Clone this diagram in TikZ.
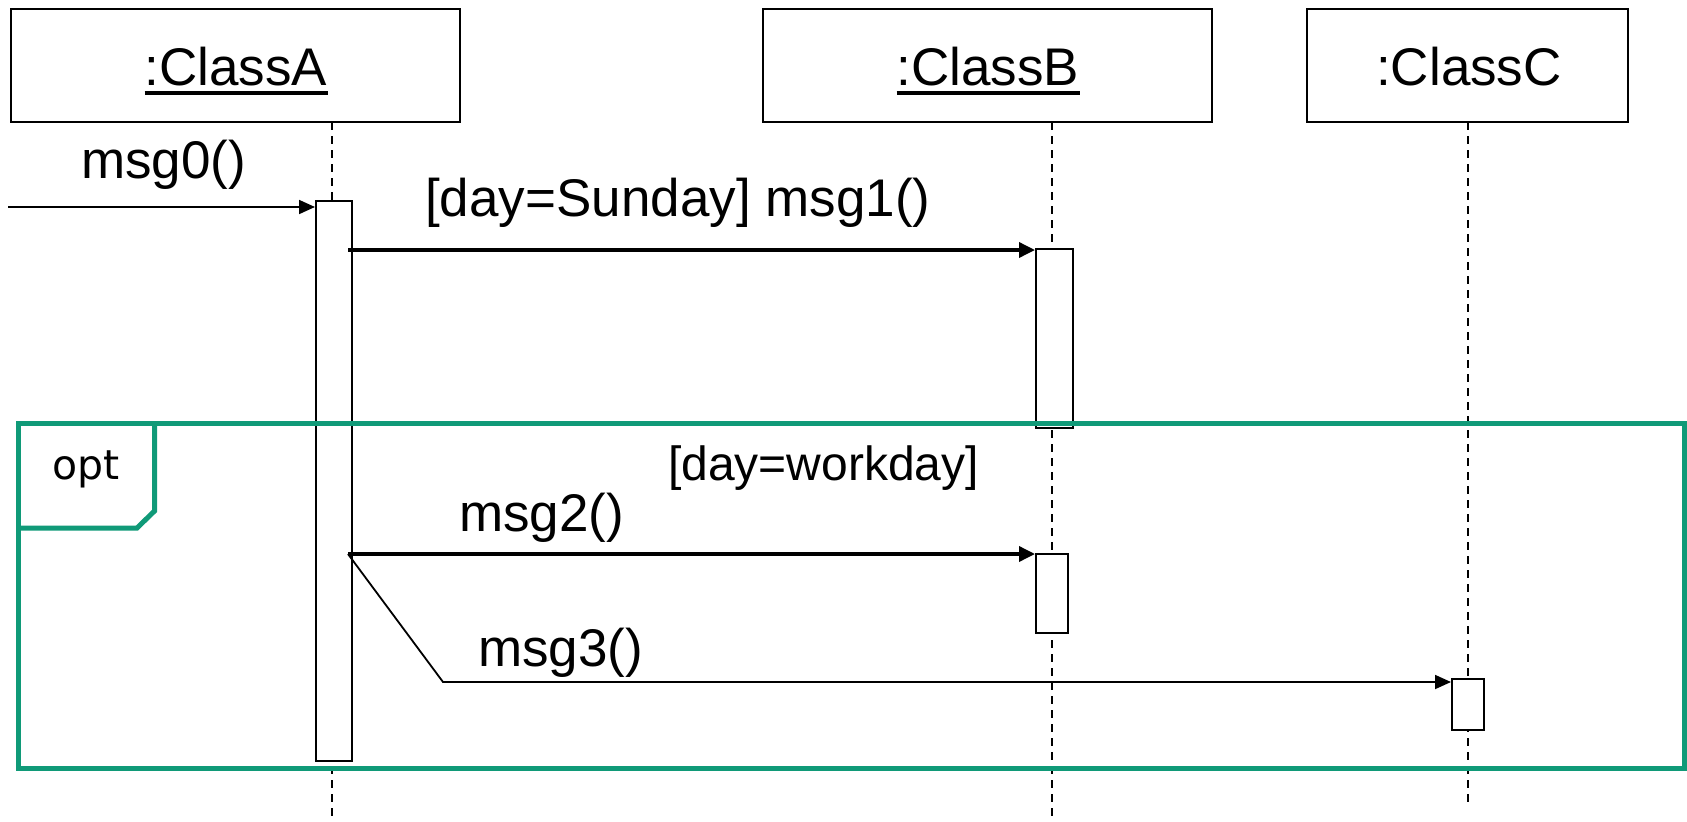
\documentclass[tikz,border=0pt]{standalone}
\usepackage{fontspec}
\setmainfont{Liberation Sans}
\newfontfamily\tagfont{DejaVu Sans}
\usetikzlibrary{arrows.meta}
\definecolor{optgreen}{RGB}{16,154,120}

\begin{document}
\begin{tikzpicture}[x=1pt,y=-1pt,
  classbox/.style={draw,line width=2.4pt,minimum width=#1,minimum height=113pt,inner sep=0pt},
  lbl/.style={inner sep=0pt,font=\fontsize{53}{60}\selectfont},
  guard/.style={inner sep=0pt,font=\fontsize{48}{55}\selectfont},
  lifeline/.style={line width=1.8pt,dash pattern=on 8pt off 6pt},
  actbar/.style={draw,fill=white,line width=2pt,inner sep=0pt},
  synccall/.style={line width=3.5pt,-{Triangle[length=16pt,width=15pt]}},
  thincall/.style={line width=1.8pt,-{Triangle[length=16pt,width=14pt]}},
  optframe/.style={draw=optgreen,line width=5pt,inner sep=0pt},
  ulined/.style={line width=3.6pt}
]
\useasboundingbox (0,0) rectangle (1687,822);

% participants
\node[classbox=449pt] (clsA) at (235.5,65.5) {};
\node[classbox=449pt] (clsB) at (987.5,65.5) {};
\node[classbox=321pt] (clsC) at (1467.5,65.5) {};
\node[lbl,anchor=base] (nameA) at (236,85) {:ClassA};
\node[lbl,anchor=base] (nameB) at (988,85) {:ClassB};
\node[lbl,anchor=base] (nameC) at (1469,85) {:ClassC};
\draw[ulined] ([yshift=-8pt]nameA.base west) -- ([yshift=-8pt]nameA.base east);
\draw[ulined] ([yshift=-8pt]nameB.base west) -- ([yshift=-8pt]nameB.base east);

% lifelines
\coordinate (lAtop) at (332,122);
\coordinate (lAend) at (332,822);
\coordinate (lBtop) at (1052,122);
\coordinate (lBend) at (1052,820);
\coordinate (lCtop) at (1468,122);
\coordinate (lCend) at (1468,806);
\draw[lifeline] (lAtop) -- (lAend);
\draw[lifeline] (lBtop) -- (lBend);
\draw[lifeline] (lCtop) -- (lCend);

% activation bars
\node[actbar,minimum width=36pt,minimum height=560pt] (actA) at (334,481) {};
\node[actbar,minimum width=37pt,minimum height=179pt] (actB1) at (1054.5,338.5) {};
\node[actbar,minimum width=32pt,minimum height=79pt] (actB2) at (1052,593.5) {};
\node[actbar,minimum width=32pt,minimum height=51pt] (actC) at (1468,704.5) {};

% messages
\coordinate (m0s) at (8,207);
\draw[thincall] (m0s) -- (m0s -| actA.west);
\coordinate (m1s) at (348,250);
\draw[synccall] (m1s) -- (m1s -| actB1.west);
\coordinate (m2s) at (348,554);
\draw[synccall] (m2s) -- (m2s -| actB2.west);
\coordinate (m3bend) at (443,682);
\draw[thincall] (m2s) -- (m3bend) -- (m3bend -| actC.west);

% message labels
\node[lbl,anchor=base west] (t0) at (81,178) {msg0()};
\node[lbl,anchor=base west] (t1) at (425,216) {[day=Sunday] msg1()};
\node[lbl,anchor=base west] (t2) at (459,531) {msg2()};
\node[lbl,anchor=base west] (t3) at (478,666) {msg3()};

% combined fragment
\node[optframe,minimum width=1666pt,minimum height=345pt] (opt) at (851,595.5) {};
\coordinate (tagR) at (154.5,423);
\coordinate (tagC1) at (154.5,511);
\coordinate (tagC2) at (137,528);
\coordinate (tagL) at (18,528);
\draw[draw=optgreen,line width=5pt,line join=miter] (tagR) -- (tagC1) -- (tagC2) -- (tagL);
\node[inner sep=0pt,anchor=base west,font=\tagfont\fontsize{41}{48}\selectfont] (optname) at (52,479) {opt};
\node[guard,anchor=base west] (cond) at (668,480) {[day=workday]};
\end{tikzpicture}
\end{document}
